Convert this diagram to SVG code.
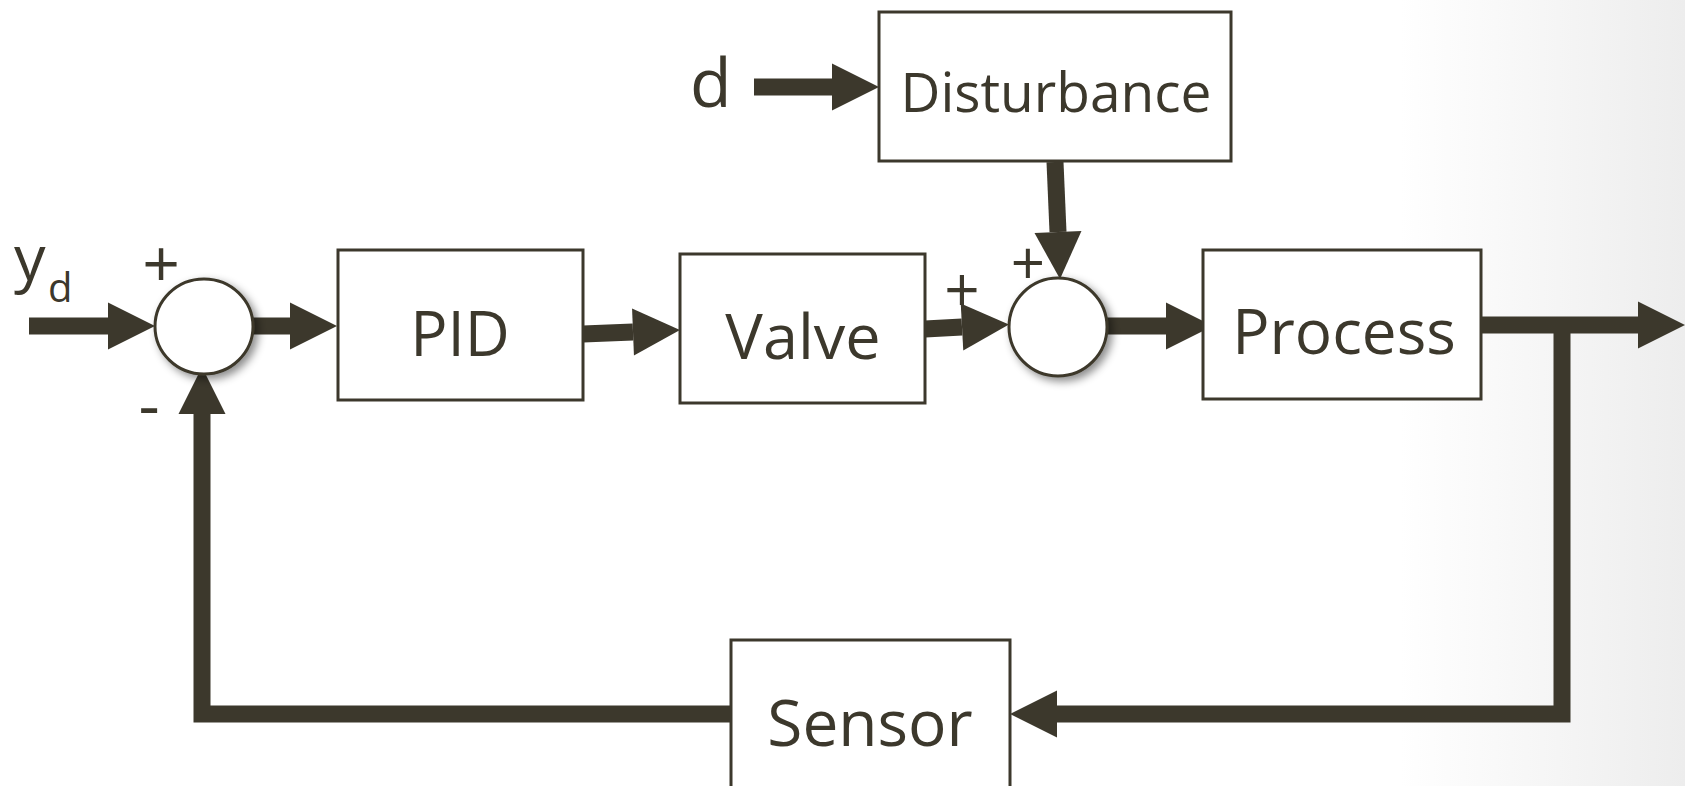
<svg xmlns="http://www.w3.org/2000/svg" width="1685" height="786" viewBox="0 0 1685 786">
<defs>
<linearGradient id="bg" x1="1400" y1="0" x2="1685" y2="0" gradientUnits="userSpaceOnUse">
<stop offset="0" stop-color="#ffffff"/>
<stop offset="1" stop-color="#ededed"/>
</linearGradient>
<filter id="sh" x="-30%" y="-30%" width="170%" height="170%">
<feDropShadow dx="4" dy="4" stdDeviation="4" flood-color="#000" flood-opacity="0.45"/>
</filter>
<marker id="ah" markerUnits="userSpaceOnUse" markerWidth="48" markerHeight="48" refX="0" refY="23.5" orient="auto" overflow="visible">
<path d="M0,0 L47,23.5 L0,47 Z" fill="#3c382c"/>
</marker>
<style>
.box{fill:#fff;stroke:#3c382c;stroke-width:3}
.sum{fill:#fff;stroke:#3c382c;stroke-width:3}
.lbl{font-family:"Open Sans","Noto Sans",sans-serif;fill:#3c382c;text-anchor:middle}
.sig{font-family:"Open Sans","Noto Sans",sans-serif;fill:#3c382c}
.c{fill:none;stroke:#3c382c;stroke-width:17;stroke-linejoin:miter;marker-end:url(#ah)}
</style>
</defs>
<rect x="0" y="0" width="1685" height="786" fill="url(#bg)"/>

<g id="connectors">
<path class="c" d="M29,326 H108"/>
<path class="c" d="M253,326 H290"/>
<path class="c" d="M583,334 L633,332"/>
<path class="c" d="M925,329 L962,327"/>
<path class="c" d="M1107,326 H1166"/>
<path class="c" d="M1481,325 H1638"/>
<path class="c" d="M754,87 H832"/>
<path class="c" d="M1055,162 L1058,232"/>
<path class="c" d="M1562,333 V714 H1057"/>
<path class="c" d="M731,714 H202 V414"/>
</g>

<g id="sum1">
<ellipse class="sum" cx="204" cy="326.5" rx="49" ry="47.5" filter="url(#sh)"/>
</g>
<g id="sum2">
<ellipse class="sum" cx="1058" cy="327" rx="49" ry="49" filter="url(#sh)"/>
</g>

<g id="pid">
<rect class="box" x="338" y="250" width="245" height="150"/>
<text class="lbl" x="460" y="356" font-size="62">PID</text>
</g>
<g id="valve">
<rect class="box" x="680" y="254" width="245" height="149"/>
<text class="lbl" x="803" y="359" font-size="63">Valve</text>
</g>
<g id="process">
<rect class="box" x="1203" y="250" width="278" height="149"/>
<text class="lbl" x="1344" y="354" font-size="62">Process</text>
</g>
<g id="disturbance">
<rect class="box" x="879" y="12" width="352" height="149"/>
<text class="lbl" x="1056" y="112" font-size="55">Disturbance</text>
</g>
<g id="sensor">
<rect class="box" x="731" y="640" width="279" height="160"/>
<text class="lbl" x="870" y="746" font-size="64">Sensor</text>
</g>

<g id="labels">
<text class="sig" x="14" y="280" font-size="63">y</text>
<text class="sig" x="48" y="302" font-size="40">d</text>
<text class="sig" x="690" y="107" font-size="68">d</text>
<text class="lbl" x="161" y="287" font-size="66">+</text>
<text class="lbl" x="149" y="428" font-size="66">-</text>
<text class="lbl" x="962" y="312" font-size="62">+</text>
<text class="lbl" x="1028" y="285" font-size="60">+</text>
</g>
</svg>
